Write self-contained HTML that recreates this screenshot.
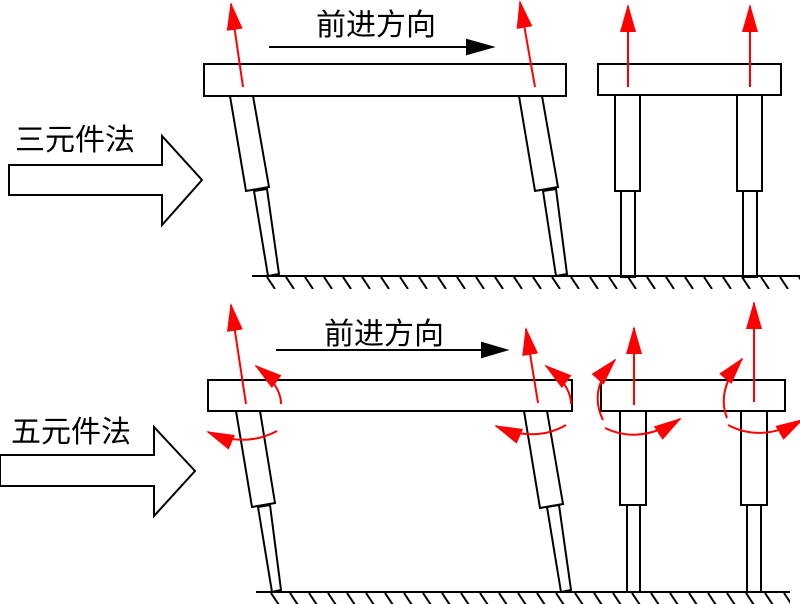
<!DOCTYPE html>
<html><head><meta charset="utf-8"><style>
html,body{margin:0;padding:0;background:#fff;width:800px;height:604px;overflow:hidden}
text{font-family:"Liberation Sans","Noto Sans CJK SC",sans-serif;font-size:30px;fill:#000}
</style></head><body>
<svg width="800" height="604" viewBox="0 0 800 604" xmlns="http://www.w3.org/2000/svg">
<defs>
<marker id="rb" markerWidth="28" markerHeight="16" refX="26" refY="8" orient="auto" markerUnits="userSpaceOnUse" viewBox="0 0 28 16"><path d="M0,0 L28,8 L0,16z" fill="#f00"/></marker>
<pattern id="h" x="0" y="277" width="19" height="12" patternUnits="userSpaceOnUse"><line x1="1" y1="0" x2="9" y2="12" stroke="#000" stroke-width="2"/></pattern>
<pattern id="h2" x="4" y="593" width="19" height="12" patternUnits="userSpaceOnUse"><line x1="1" y1="0" x2="9" y2="12" stroke="#000" stroke-width="2"/></pattern>
</defs>
<g fill="none" stroke="#000" stroke-width="2">
<text x="15" y="150" stroke="none">三元件法</text>
<polygon points="9,165 162,165 162,136 202,180 162,225 162,195 9,195" fill="#fff"/>
<text x="316" y="35" stroke="none">前进方向</text>
<line x1="269" y1="47" x2="470" y2="47"/>
<polygon points="467,40 492,47 467,54" fill="#000"/>
<rect x="204" y="64" width="362" height="32" fill="#fff"/>
<polygon points="230,96 253,96 269,187 246,191" fill="#fff"/>
<polygon points="254,191 267,189 279,274 268,276" fill="#fff"/>
<polygon points="519,96 542,96 558,187 535,191" fill="#fff"/>
<polygon points="543,191 556,189 567,274 556,276" fill="#fff"/>
<rect x="598" y="64" width="183" height="31" fill="#fff"/>
<rect x="615" y="95" width="25" height="96" fill="#fff"/>
<rect x="621" y="191" width="14" height="86" fill="#fff"/>
<rect x="737" y="95" width="25" height="96" fill="#fff"/>
<rect x="743" y="191" width="14" height="86" fill="#fff"/>
<line x1="252" y1="276" x2="800" y2="276"/>
<rect x="265" y="277" width="535" height="12" fill="url(#h)" stroke="none"/>
<text x="11" y="442" stroke="none">五元件法</text>
<polygon points="0,455 154,455 154,427 195,471 154,516 154,486 0,486" fill="#fff"/>
<text x="324" y="344" stroke="none">前进方向</text>
<line x1="276" y1="350" x2="485" y2="350"/>
<polygon points="482,343 506,350 482,357" fill="#000"/>
<rect x="208" y="380" width="364" height="31" fill="#fff"/>
<polygon points="236,411 260,411 275,503 252,507" fill="#fff"/>
<polygon points="258,507 270,505 281,590 272,592" fill="#fff"/>
<polygon points="524,411 547,411 563,504 540,508" fill="#fff"/>
<polygon points="547,507 559,505 571,590 561,592" fill="#fff"/>
<rect x="601" y="380" width="184" height="31" fill="#fff"/>
<rect x="620" y="411" width="26" height="94" fill="#fff"/>
<rect x="627" y="505" width="13" height="87" fill="#fff"/>
<rect x="741" y="411" width="26" height="94" fill="#fff"/>
<rect x="747" y="505" width="14" height="87" fill="#fff"/>
<line x1="256" y1="592" x2="790" y2="592"/>
<rect x="266" y="593" width="524" height="11" fill="url(#h2)" stroke="none"/>
</g>
<g fill="none" stroke="#f00" stroke-width="2">
<line x1="243" y1="87" x2="231" y2="4" marker-end="url(#rb)"/>
<line x1="535" y1="87" x2="520" y2="2" marker-end="url(#rb)"/>
<line x1="628" y1="87" x2="628" y2="6" marker-end="url(#rb)"/>
<line x1="750" y1="87" x2="750" y2="6" marker-end="url(#rb)"/>
<line x1="246" y1="404" x2="231" y2="305" marker-end="url(#rb)"/>
<line x1="538" y1="403" x2="526" y2="329" marker-end="url(#rb)"/>
<line x1="634" y1="405" x2="634" y2="328" marker-end="url(#rb)"/>
<line x1="754" y1="402" x2="754" y2="303" marker-end="url(#rb)"/>
<path d="M281,404 Q281,385 256,366" marker-end="url(#rb)"/>
<path d="M277,431 Q245,448 208,432" marker-end="url(#rb)"/>
<path d="M571,404 Q571,385 546,366" marker-end="url(#rb)"/>
<path d="M566,425 Q535,443 496,426" marker-end="url(#rb)"/>
<path d="M603,420 Q588,390 615,360" marker-end="url(#rb)"/>
<path d="M605,428 Q640,445 680,419" marker-end="url(#rb)"/>
<path d="M727,418 Q716,390 742,359" marker-end="url(#rb)"/>
<path d="M728,425 Q762,443 802,420" marker-end="url(#rb)"/>
</g>
</svg>
</body></html>
